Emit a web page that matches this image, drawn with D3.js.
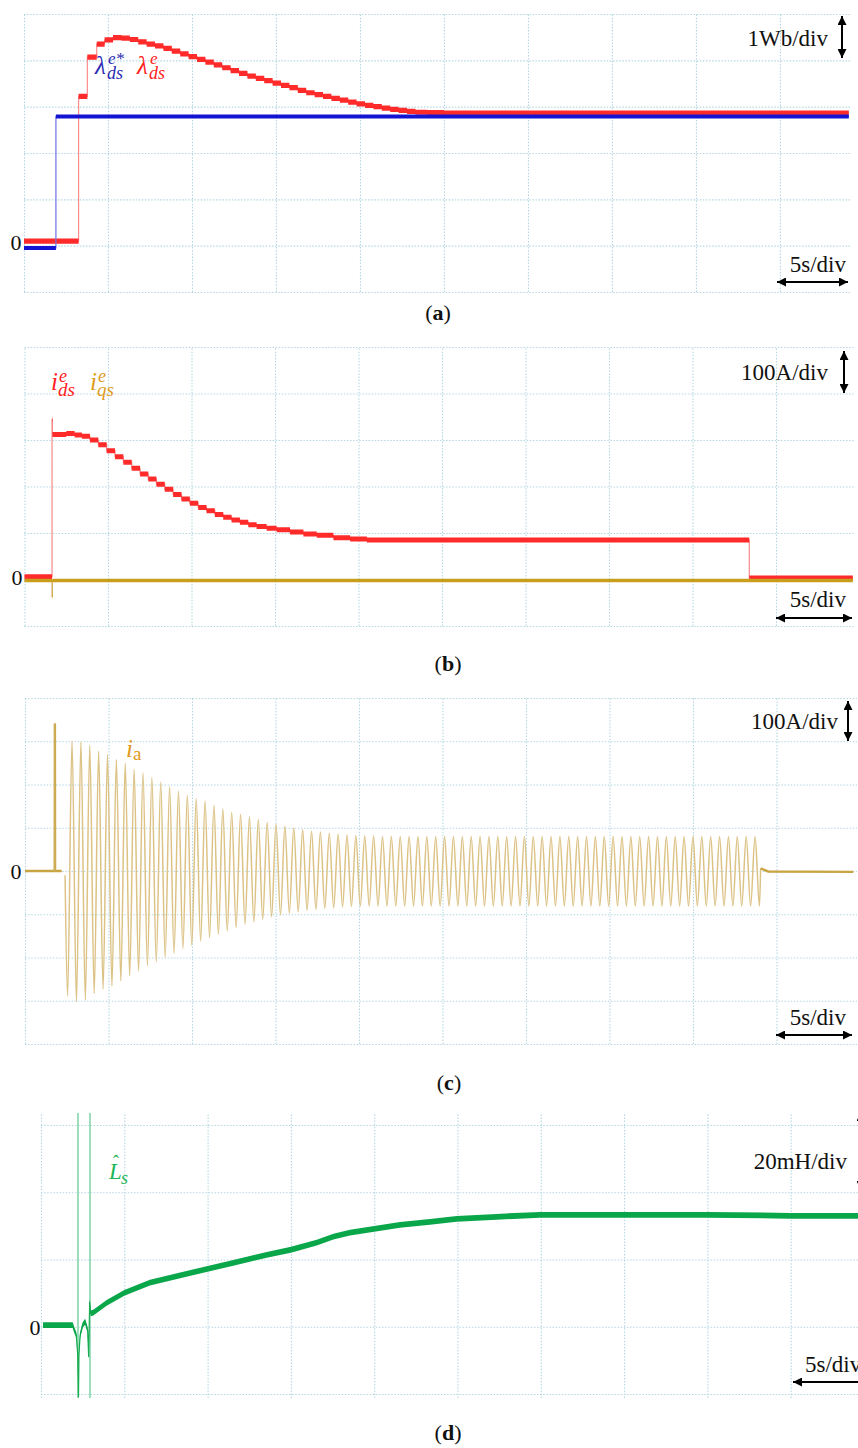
<!DOCTYPE html>
<html lang="en">
<head>
<meta charset="UTF-8">
<title>Flux, currents and inductance estimate</title>
<script src="https://cdn.jsdelivr.net/npm/d3@7"></script>
<style>
    body { margin: 0; background: #fff; }
    svg { display: block; }
    .grid line { stroke: #b6d7e2; stroke-width: 1.1; stroke-dasharray: 1.5, 1.6; }
    .grid path, .grid text { display: none; }
    .lbl { font-family: "Liberation Serif", "Times New Roman", serif; fill: #111; }
    .math { font-family: "Liberation Serif", "Times New Roman", serif; font-style: italic; }
</style>
</head>
<body>
<script>
// ---- data (time in s, read from the scope shots) ----
const timeTicks = [0, 5, 10, 15, 20, 25, 30, 35, 40, 45];

// (a) flux, Wb
const fluxTicks = [-1, 0, 1, 2, 3, 4, 5];
const fluxRefT = [0, 1.9, 49.1];
const fluxRefV = [-0.05, 2.79, 2.79];
const fluxEstT = [0, 3.25, 3.77, 4.33, 4.8, 5.3, 5.8, 6.3, 6.8, 7.3, 7.8, 8.3, 8.8, 9.3, 9.8, 10.3, 10.8, 11.3, 11.8, 12.3,
    12.8, 13.3, 13.8, 14.3, 14.8, 15.3, 15.8, 16.3, 16.8, 17.3, 17.8, 18.3, 18.8, 19.3, 19.8, 20.3, 20.8, 21.3, 21.8,
    22.3, 22.8, 23.3, 24.0, 25.0, 49.1];
const fluxEstV = [0.1, 3.22, 4.07, 4.35, 4.44, 4.49, 4.48, 4.45, 4.40, 4.35, 4.31, 4.26, 4.20, 4.14, 4.08, 4.02, 3.96, 3.90, 3.84, 3.78,
    3.72, 3.66, 3.61, 3.56, 3.51, 3.46, 3.41, 3.35, 3.30, 3.26, 3.22, 3.18, 3.14, 3.10, 3.06, 3.03, 3.00, 2.97, 2.94,
    2.92, 2.90, 2.88, 2.87, 2.86, 2.86];

// (b) dq currents, A
const currentTicks = [-100, 0, 100, 200, 300, 400, 500];
const idsT = [0, 1.65, 1.67, 2.5, 3.0, 3.44, 3.92, 4.42, 4.92, 5.42, 5.92, 6.42, 6.92, 7.41, 7.9, 8.4, 8.9, 9.4, 9.9, 10.4,
    10.9, 11.4, 11.9, 12.4, 12.9, 13.4, 13.9, 14.5, 15.1, 15.9, 16.7, 17.5, 18.5, 19.5, 20.5, 43.4, 49.6];
const idsV = [6, 344, 312, 314, 311, 308, 300, 290, 277, 264, 252, 239, 227, 216, 205, 194, 183, 173, 164, 155,
    148, 140, 134, 128, 123, 118, 114, 110, 107, 102, 98, 95, 90, 87, 85, 3, 3];
const iqsT = [0, 1.65, 1.67, 49.6];
const iqsV = [-2, -37, -2, -2];

// (c) phase current, A
const phaseTicks = [-400, -300, -200, -100, 0, 100, 200, 300, 400];
const iaLeadT = [0, 1.78, 1.79, 1.80, 2.2, 2.4];
const iaLeadV = [0, 0, 341, 0, 0, -10];
const iaStart = 2.55;   // first trough
const iaEnd = 43.98;    // last trough
const iaPeaks = [300, 298, 290, 277, 269, 258, 249, 235, 227, 216, 206, 195, 185, 175, 167, 162, 152, 144, 136, 131,
    125, 119, 113, 108, 104, 100, 96, 92, 90, 87, 85, 83, 82, 81, 81, 80, 80, 80, 80, 80,
    80, 80, 80, 80, 80, 80, 80, 80, 80, 80, 80, 80, 80, 80, 80, 80, 80, 80, 80, 80,
    80, 80, 80, 80, 80, 80, 80, 80, 80, 80, 80, 80, 80, 80, 80, 80, 80, 80];
const iaTroughs = [-289, -302, -298, -283, -273, -266, -254, -242, -231, -219, -210, -200, -190, -179, -172, -162, -154, -146, -139, -131,
    -123, -118, -112, -106, -102, -98, -95, -91, -89, -86, -85, -83, -82, -81, -81, -81, -81, -81, -81, -81,
    -81, -81, -81, -81, -81, -81, -81, -81, -81, -81, -81, -81, -81, -81, -81, -81, -81, -81, -81, -81,
    -81, -81, -81, -81, -81, -81, -81, -81, -81, -81, -81, -81, -81, -81, -81, -81, -81, -81, -81];
const iaTailT = [44.05, 44.5, 49.6];
const iaTailV = [6, -1, -2];

// (d) inductance estimate, mH
const inductTicks = [-20, 0, 20, 40, 60];
const lsT = [0.12, 1.9, 2.0, 2.12, 2.2, 2.25, 2.28, 2.35, 2.5, 2.65, 2.8, 2.86, 2.92, 2.98, 3.14, 3.94, 5.0, 6.54, 8.54, 10.0,
    11.54, 13.55, 15.0, 16.55, 17.55, 18.55, 20.0, 21.55, 23.35, 24.95, 27.35, 29.95, 33.35, 39.95, 44.96, 49.5];
const lsV = [0.5, 0.5, -1, -2.5, -8, -21, -8, -2.5, 0.5, 1.5, -1, -9, 7.4, 4, 4.2, 7.1, 10.1, 13.1, 15.5, 17.2,
    19.0, 21.4, 22.9, 25.0, 26.8, 28.0, 29.1, 30.3, 31.2, 32.1, 32.7, 33.3, 33.3, 33.3, 33.0, 33.0];
const lsCursorT = [2.22, 2.94];

// ---- layout ----
const W = 858, H = 1448;
const svg = d3.select("body").append("svg").attr("width", W).attr("height", H);

const defs = svg.append("defs");
defs.append("marker")
    .attr("id", "head")
    .attr("viewBox", "0 0 10 10")
    .attr("refX", 10).attr("refY", 5)
    .attr("markerWidth", 11).attr("markerHeight", 9)
    .attr("markerUnits", "userSpaceOnUse")
    .attr("orient", "auto-start-reverse")
    .append("path").attr("d", "M0,0 L10,5 L0,10 z").attr("fill", "#000");

const panels = [
    {id: "a", left: 24, right: 850, top: 14, bottom: 292, vTop: 14, vBot: 292, tMax: 49.17, yDomain: [-1, 5], yTicks: fluxTicks},
    {id: "b", left: 24.5, right: 855, top: 347, bottom: 626, vTop: 347, vBot: 626, tMax: 49.73, yDomain: [-100, 500], yTicks: currentTicks},
    {id: "c", left: 25, right: 857, top: 698, bottom: 1044, vTop: 698, vBot: 1044, tMax: 49.82, yDomain: [-400, 400], yTicks: phaseTicks},
    {id: "d", left: 41, right: 874, top: 1125, bottom: 1394, vTop: 1113, vBot: 1398, tMax: 50, yDomain: [-20, 60], yTicks: inductTicks}
];

panels.forEach(p => {
    p.x = d3.scaleLinear().domain([0, p.tMax]).range([p.left, p.right]);
    p.y = d3.scaleLinear().domain(p.yDomain).range([p.bottom, p.top]);
    p.g = svg.append("g").attr("id", "panel-" + p.id);

    p.g.append("g")
        .attr("class", "grid")
        .attr("transform", "translate(0," + p.vBot + ")")
        .call(d3.axisBottom(p.x).tickValues(timeTicks).tickSize(-(p.vBot - p.vTop)).tickFormat(""));

    p.g.append("g")
        .attr("class", "grid")
        .attr("transform", "translate(" + p.left + ",0)")
        .call(d3.axisLeft(p.y).tickValues(p.yTicks).tickSize(-(p.right - p.left)).tickFormat(""));
});

// thick noisy trace: a thin line for the jumps, with a band of fixed pixel height over it
function trace(p, t, v, color, thin, half, curve) {
    const pts = d3.zip(t, v);
    p.g.append("path")
        .datum(pts)
        .attr("fill", "none")
        .attr("stroke", thin)
        .attr("stroke-width", 1.2)
        .attr("d", d3.line().curve(curve).x(d => p.x(d[0])).y(d => p.y(d[1])));
    p.g.append("path")
        .datum(pts)
        .attr("fill", color)
        .attr("d", d3.area().curve(curve)
            .x(d => p.x(d[0]))
            .y0(d => p.y(d[1]) + half)
            .y1(d => p.y(d[1]) - half));
}

function arrow(x1, y1, x2, y2) {
    svg.append("line")
        .attr("x1", x1).attr("y1", y1).attr("x2", x2).attr("y2", y2)
        .attr("stroke", "#000").attr("stroke-width", 2)
        .attr("marker-start", "url(#head)").attr("marker-end", "url(#head)");
}

function label(x, y, txt, anchor) {
    svg.append("text").attr("class", "lbl")
        .attr("x", x).attr("y", y)
        .attr("text-anchor", anchor || "start")
        .attr("font-size", 23)
        .text(txt);
}

function caption(x, y, letter) {
    const t = svg.append("text").attr("class", "lbl")
        .attr("x", x).attr("y", y)
        .attr("text-anchor", "middle")
        .attr("font-size", 22);
    t.append("tspan").text("(");
    t.append("tspan").attr("font-weight", "bold").text(letter);
    t.append("tspan").text(")");
}

function zero(x, y) {
    svg.append("text").attr("class", "lbl")
        .attr("x", x).attr("y", y)
        .attr("text-anchor", "middle")
        .attr("font-size", 22)
        .text("0");
}

// symbol with stacked superscript and subscript, one text element
function symbol(s) {
    const t = svg.append("text").attr("class", "math").attr("fill", s.color)
        .attr("x", s.x).attr("y", s.y);
    t.append("tspan").attr("font-size", s.size).text(s.main);
    t.append("tspan").attr("x", s.x + s.dx).attr("y", s.supY).attr("font-size", s.small).text(s.sup);
    t.append("tspan").attr("x", s.x + s.dx - 1).attr("y", s.subY).attr("font-size", s.small + 1).text(s.sub);
}

// ---- (a) ----
const pa = panels[0];
trace(pa, fluxEstT, fluxEstV, "#ff2b2b", "#ff8c8c", 2.6, d3.curveStepAfter);
trace(pa, fluxRefT, fluxRefV, "#1414d2", "#7070e6", 2.0, d3.curveStepAfter);
symbol({x: 95, y: 74, main: "λ", sup: "e*", sub: "ds", color: "#2c2cb4", dx: 13, supY: 64, subY: 79, size: 25, small: 17});
symbol({x: 137, y: 74, main: "λ", sup: "e", sub: "ds", color: "#ff2020", dx: 13, supY: 64, subY: 79, size: 25, small: 17});
label(828, 46, "1Wb/div", "end");
arrow(842, 16, 842, 58);
label(846, 272, "5s/div", "end");
arrow(777, 282, 848, 282);
zero(16, 250);
caption(438, 320, "a");

// ---- (b) ----
const pb = panels[1];
trace(pb, idsT, idsV, "#ff2b2b", "#f48a8a", 2.5, d3.curveStepAfter);
trace(pb, iqsT, iqsV, "#c99e1c", "#d4b060", 1.7, d3.curveStepAfter);
symbol({x: 51, y: 390, main: "i", sup: "e", sub: "ds", color: "#ff2020", dx: 8, supY: 382, subY: 396, size: 25, small: 18});
symbol({x: 90, y: 390, main: "i", sup: "e", sub: "qs", color: "#e09a1a", dx: 8, supY: 382, subY: 396, size: 25, small: 18});
label(828, 380, "100A/div", "end");
arrow(844, 351, 844, 393);
label(846, 607, "5s/div", "end");
arrow(776, 618, 852, 618);
zero(17, 585);
caption(448, 671, "b");

// ---- (c) ----
const pc = panels[2];
const half = d3.scaleLinear().domain([0, iaTroughs.length + iaPeaks.length - 1]).range([iaStart, iaEnd]);
const osc = [];
iaTroughs.forEach((v, k) => {
    osc.push([half(2 * k), v]);
    if (k < iaPeaks.length) osc.push([half(2 * k + 1), iaPeaks[k]]);
});
const lead = d3.zip(iaLeadT, iaLeadV);
const tail = d3.zip(iaTailT, iaTailV);
const lineC = d3.line().x(d => pc.x(d[0])).y(d => pc.y(d[1]));
pc.g.append("path")
    .datum([lead[lead.length - 1]].concat(osc, [tail[0]]))
    .attr("fill", "none").attr("stroke", "#dcc285").attr("stroke-width", 1.5)
    .attr("d", lineC.curve(d3.curveMonotoneX));
pc.g.append("path")
    .datum(lead.slice(0, 5))
    .attr("fill", "none").attr("stroke", "#c9a443").attr("stroke-width", 2.4)
    .attr("d", lineC.curve(d3.curveLinear));
pc.g.append("path")
    .datum(lead.slice(1, 4))
    .attr("fill", "none").attr("stroke", "#cfae5a").attr("stroke-width", 1.4)
    .attr("d", lineC.curve(d3.curveLinear));
pc.g.append("path")
    .datum(tail)
    .attr("fill", "none").attr("stroke", "#c9a443").attr("stroke-width", 2.4)
    .attr("d", lineC.curve(d3.curveLinear));
const ia = svg.append("text").attr("class", "math").attr("x", 126).attr("y", 757).attr("fill", "#e09a1a");
ia.append("tspan").attr("font-size", 25).text("i");
ia.append("tspan").attr("dy", 3).attr("font-size", 19).style("font-style", "normal").text("a");
label(838, 729, "100A/div", "end");
arrow(848, 701, 848, 741);
label(846, 1025, "5s/div", "end");
arrow(776, 1035, 852, 1035);
zero(16, 879);
caption(449, 1090, "c");

// ---- (d) ----
const pd = panels[3];
pd.g.selectAll(".cursor")
    .data(lsCursorT)
    .enter()
    .append("line")
    .attr("class", "cursor")
    .attr("x1", d => pd.x(d)).attr("x2", d => pd.x(d))
    .attr("y1", pd.vTop).attr("y2", pd.vBot)
    .attr("stroke", "#84d6ab").attr("stroke-width", 1.6);
trace(pd, lsT, lsV, "#0aa64a", "#1fae55", 2.9, d3.curveLinear);
const ls = svg.append("text").attr("class", "math").attr("x", 109).attr("y", 1179).attr("fill", "#1db656");
ls.append("tspan").attr("font-size", 23).text("L");
ls.append("tspan").attr("x", 113).attr("y", 1168).attr("font-size", 18).style("font-style", "normal").text("ˆ");
ls.append("tspan").attr("x", 121).attr("y", 1184).attr("font-size", 18).text("s");
label(847, 1169, "20mH/div", "end");
arrow(861, 1112, 861, 1190);
label(805, 1372, "5s/div", "start");
arrow(793, 1382, 880, 1382);
zero(35, 1335);
caption(448, 1440, "d");
</script>
</body>
</html>
